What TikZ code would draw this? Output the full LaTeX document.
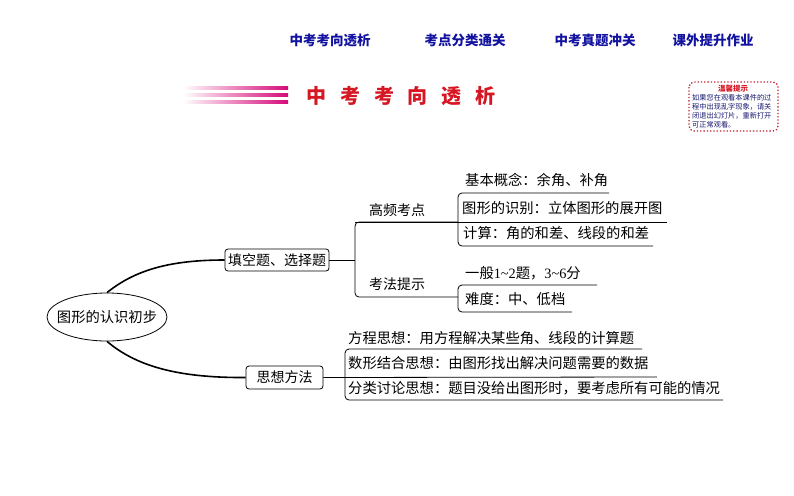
\documentclass[tikz,border=0pt]{standalone}
\usepackage{fontspec}
\setmainfont{Liberation Serif}
\newfontfamily\cjk{Noto Sans CJK SC}
\usetikzlibrary{shapes.geometric}
\definecolor{navblue}{RGB}{18,18,160}
\definecolor{titlered}{RGB}{214,22,34}
\definecolor{mag}{RGB}{214,10,122}
\definecolor{warnred}{RGB}{190,30,45}
\definecolor{warnblue}{RGB}{20,20,110}
\tikzset{
  navtext/.style={font=\cjk\bfseries\fontsize{13.5}{15}\selectfont, text=navblue, inner sep=0pt},
  maptext/.style={font=\cjk\fontsize{14.3}{16}\selectfont, inner sep=0pt, anchor=west},
  topbox/.style={draw, rounded corners=3pt, line width=0.8pt, font=\cjk\fontsize{14}{16}\selectfont, inner sep=0pt},
  curveline/.style={line width=1.6pt},
  bracket/.style={line width=0.8pt, rounded corners=4pt},
  warntext/.style={font=\cjk\fontsize{7.2}{8}\selectfont, text=warnblue, inner sep=0pt, anchor=west},
}
\begin{document}
\begin{tikzpicture}[x=1pt,y=-1pt]
\useasboundingbox (0,0) rectangle (794,495);
% navigation
\node[navtext] (n1) at (330,40) {中考考向透析};
\node[navtext] (n2) at (465,40) {考点分类通关};
\node[navtext] (n3) at (595,40) {中考真题冲关};
\node[navtext] (n4) at (713,40) {课外提升作业};
% gradient bars
\foreach \yy in {88,95,102}{
  \shade[left color=white, right color=mag] (183,\yy-1.6) rectangle (288,\yy+1.6);
}
% title
\node[font=\cjk\bfseries\fontsize{20}{22}\selectfont, text=titlered, inner sep=0pt] (title) at (401,96)
  {中\hspace{13.8pt}考\hspace{13.8pt}考\hspace{13.8pt}向\hspace{13.8pt}透\hspace{13.8pt}析};
% warning box
\draw[warnred, dotted, line width=1.3pt, rounded corners=5pt] (689,82) rectangle (778,131);
\node[font=\cjk\bfseries\fontsize{7.5}{8}\selectfont, text=titlered, inner sep=0pt] (wt) at (733,89) {温馨提示};
\node[warntext] (w1) at (692,98) {如果您在观看本课件的过};
\node[warntext] (w2) at (692,107) {程中出现乱字现象，请关};
\node[warntext] (w3) at (692,116) {闭退出幻灯片，重新打开};
\node[warntext] (w4) at (692,125) {可正常观看。};
% mind map
\node[draw, ellipse, line width=0.8pt, minimum width=120pt, minimum height=48pt, inner sep=0pt] (root) at (107,317) {};
\node[font=\cjk\fontsize{14.3}{16}\selectfont, inner sep=0pt] (rootlabel) at (root.center) {图形的认识初步};
\node[topbox, minimum width=104pt, minimum height=22pt] (b1) at (277,260) {填空题、选择题};
\node[topbox, minimum width=77pt, minimum height=23pt] (b2) at (284.5,377.5) {思想方法};
\draw[curveline] (root.north) .. controls (135,270) and (170,260) .. (b1.west);
\draw[curveline] (root.south) .. controls (135,365) and (175,378) .. (b2.west);
% level 2 (upper)
\node[font=\cjk\fontsize{14}{16}\selectfont, inner sep=0pt] (t1) at (397,210) {高频考点};
\node[font=\cjk\fontsize{14}{16}\selectfont, inner sep=0pt] (t2) at (397,284) {考法提示};
\coordinate (j1) at (355,260);
\draw[line width=0.8pt] (b1.east) -- (j1);
\draw[bracket] (458,222) -- (355,222) -- (355,297) -- (458,297);
% 高频考点 children
\node[maptext] (a1) at (465,180) {基本概念：余角、补角};
\node[maptext] (a2) at (462,208) {图形的识别：立体图形的展开图};
\node[maptext] (a3) at (463,233) {计算：角的和差、线段的和差};
\draw[bracket] (609,193) -- (458,193) -- (458,246) -- (653,246);
\draw[line width=0.8pt] (355,222) -- (667,222);
% 考法提示 children
\node[maptext] (c1) at (465,273) {一般{\rmfamily 1\textasciitilde2}题，{\rmfamily 3\textasciitilde6}分};
\node[maptext] (c2) at (465,299) {难度：中、低档};
\draw[bracket] (597,285) -- (458,285) -- (458,312) -- (572,312);
% 思想方法 children
\node[maptext] (d1) at (348,338) {方程思想：用方程解决某些角、线段的计算题};
\node[maptext] (d2) at (348,363) {数形结合思想：由图形找出解决问题需要的数据};
\node[maptext] (d3) at (348,388) {分类讨论思想：题目没给出图形时，要考虑所有可能的情况};
\draw[bracket] (642,349) -- (345,349) -- (345,400) -- (723,400);
\coordinate (j2) at (657,377);
\draw[line width=0.8pt] (b2.east) -- (j2);
\end{tikzpicture}
\end{document}
